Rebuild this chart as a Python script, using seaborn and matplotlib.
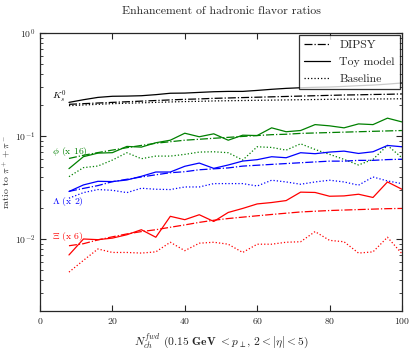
import numpy as np
import matplotlib
matplotlib.use("Agg")
import matplotlib.pyplot as plt
import pandas as pd
import seaborn as sns

nch = np.arange(8, 101, 4)

# K0s
k0_dipsy = [0.203, 0.206, 0.209, 0.212, 0.215, 0.218, 0.221, 0.224, 0.227, 0.229, 0.232, 0.234,
            0.236, 0.238, 0.240, 0.242, 0.244, 0.246, 0.248, 0.250, 0.251, 0.253, 0.254, 0.256]
k0_toy = [0.212, 0.225, 0.237, 0.243, 0.244, 0.246, 0.252, 0.260, 0.261, 0.265, 0.269, 0.271,
          0.271, 0.277, 0.284, 0.290, 0.294, 0.297, 0.299, 0.303, 0.308, 0.312, 0.319, 0.327]
k0_base = [0.197, 0.200, 0.203, 0.206, 0.208, 0.210, 0.212, 0.214, 0.216, 0.217, 0.219, 0.220,
           0.221, 0.222, 0.223, 0.224, 0.225, 0.226, 0.227, 0.228, 0.228, 0.229, 0.229, 0.230]

# phi (x 16)
phi_dipsy = [0.0605, 0.065, 0.069, 0.073, 0.077, 0.081, 0.085, 0.088, 0.091, 0.093, 0.095, 0.097,
             0.099, 0.101, 0.103, 0.104, 0.106, 0.107, 0.108, 0.109, 0.110, 0.111, 0.112, 0.113]
phi_toy = [0.0482, 0.063, 0.0682, 0.0689, 0.0792, 0.078, 0.086, 0.091, 0.1064, 0.0983, 0.105, 0.091,
           0.1018, 0.101, 0.120, 0.110, 0.113, 0.129, 0.1255, 0.120, 0.131, 0.129, 0.149, 0.137]
phi_base = [0.0403, 0.0493, 0.0511, 0.0584, 0.0688, 0.0602, 0.0638, 0.0638, 0.0663, 0.0698, 0.0703, 0.0688,
            0.0584, 0.0786, 0.0774, 0.0729, 0.084, 0.074, 0.0663, 0.0593, 0.0523, 0.0593, 0.081, 0.0615]

# Lambda (x 2)
lam_dipsy = [0.029, 0.031, 0.033, 0.036, 0.038, 0.040, 0.042, 0.044, 0.045, 0.047, 0.048, 0.049,
             0.051, 0.052, 0.053, 0.054, 0.055, 0.056, 0.057, 0.057, 0.058, 0.058, 0.059, 0.0595]
lam_toy = [0.0289, 0.0335, 0.0363, 0.0361, 0.0374, 0.0406, 0.0447, 0.0447, 0.0508, 0.0546, 0.0485, 0.0523,
           0.0571, 0.0589, 0.0629, 0.0615, 0.0688, 0.0673, 0.0698, 0.0713, 0.0677, 0.0703, 0.0809, 0.0786]
lam_base = [0.0249, 0.0282, 0.0302, 0.0297, 0.0282, 0.0311, 0.0304, 0.0302, 0.0320, 0.0320, 0.0345, 0.0345,
            0.0345, 0.0327, 0.0372, 0.0358, 0.0340, 0.0358, 0.0372, 0.0358, 0.0333, 0.0400, 0.0366, 0.0345]

# Xi (x 6)
xi_dipsy = [0.0086, 0.0090, 0.0098, 0.0105, 0.0112, 0.0118, 0.0123, 0.0130, 0.0137, 0.0145, 0.0152, 0.0158,
            0.0163, 0.0168, 0.0173, 0.0178, 0.0183, 0.0186, 0.0189, 0.0191, 0.0193, 0.0195, 0.0197, 0.0198]
xi_toy = [0.0070, 0.0100, 0.00985, 0.0102, 0.0110, 0.0123, 0.0104, 0.0166, 0.0154, 0.0172, 0.0148, 0.0181,
          0.0198, 0.0219, 0.0226, 0.0236, 0.0285, 0.0283, 0.0260, 0.0262, 0.0272, 0.0253, 0.0358, 0.0304]
xi_base = [0.00477, 0.0062, 0.0080, 0.0074, 0.0074, 0.0073, 0.0075, 0.0093, 0.0077, 0.0091, 0.0093, 0.0089,
           0.0074, 0.0089, 0.0089, 0.0093, 0.0094, 0.0118, 0.0097, 0.0094, 0.0073, 0.0075, 0.0104, 0.0072]

species = ["K0s", "phi", "Lambda", "Xi"]
colors = {"K0s": "k", "phi": "g", "Lambda": "b", "Xi": "r"}
labels = {"K0s": r"$K_s^0$", "phi": r"$\phi$ (x 16)", "Lambda": r"$\Lambda$ (x 2)", "Xi": r"$\Xi$ (x 6)"}
label_y = {"K0s": 0.24, "phi": 0.071, "Lambda": 0.0233, "Xi": 0.0105}
models = ["DIPSY", "Toy model", "Baseline"]
styles = {"DIPSY": "-.", "Toy model": "-", "Baseline": ":"}

data = {
    ("K0s", "DIPSY"): k0_dipsy, ("K0s", "Toy model"): k0_toy, ("K0s", "Baseline"): k0_base,
    ("phi", "DIPSY"): phi_dipsy, ("phi", "Toy model"): phi_toy, ("phi", "Baseline"): phi_base,
    ("Lambda", "DIPSY"): lam_dipsy, ("Lambda", "Toy model"): lam_toy, ("Lambda", "Baseline"): lam_base,
    ("Xi", "DIPSY"): xi_dipsy, ("Xi", "Toy model"): xi_toy, ("Xi", "Baseline"): xi_base,
}

rows = []
for (sp, m), vals in data.items():
    for x, v in zip(nch, vals):
        rows.append({"nch": x, "ratio": v, "species": sp, "model": m})
df = pd.DataFrame(rows)

sns.set_style("ticks")
plt.rcParams["font.family"] = "serif"
plt.rcParams["font.serif"] = ["cmr10"]
plt.rcParams["mathtext.fontset"] = "cm"
plt.rcParams["axes.formatter.use_mathtext"] = True
plt.rcParams["axes.unicode_minus"] = False

fig = plt.figure(figsize=(4.16, 3.51), dpi=100)
ax = fig.add_axes([0.0962, 0.114, 0.870, 0.792])

for sp in species:
    for m in models:
        sub = df[(df.species == sp) & (df.model == m)]
        sns.lineplot(data=sub, x="nch", y="ratio", ax=ax, color=colors[sp],
                     linestyle=styles[m], lw=0.9, legend=False, errorbar=None)
    ax.text(3.2, label_y[sp], labels[sp], color=colors[sp], fontsize=7, va="center", ha="left")

ax.set_yscale("log")
ax.set_xlim(0, 100)
ax.set_ylim(0.002, 1)
ax.set_xticks([0, 20, 40, 60, 80, 100])
ax.tick_params(axis="both", which="both", direction="in", top=True, right=True, labelsize=7)
ax.tick_params(which="major", length=4)
ax.tick_params(which="minor", length=2)
for s in ax.spines.values():
    s.set_linewidth(0.9)

ax.set_xlabel(r"$N_{ch}^{fwd}$ (0.15 $\mathbf{GeV}$ $< p_\perp$, $2 < |\eta| < 5$)", fontsize=8.3)
ax.set_ylabel(r"ratio to $\pi^+ + \pi^-$", fontsize=7, labelpad=1)
ax.set_title("Enhancement of hadronic flavor ratios", fontsize=8.5, fontweight="bold", pad=14)

handles = [plt.Line2D([], [], color="k", linestyle=styles[m], lw=0.9) for m in models]
leg = ax.legend(handles, models, loc="upper right", fontsize=8.5, frameon=True, fancybox=False,
                borderaxespad=0.2, handlelength=2.2, labelspacing=0.55)
leg.get_frame().set_edgecolor("k")
leg.get_frame().set_linewidth(0.9)

fig.savefig("out.png", dpi=100)
